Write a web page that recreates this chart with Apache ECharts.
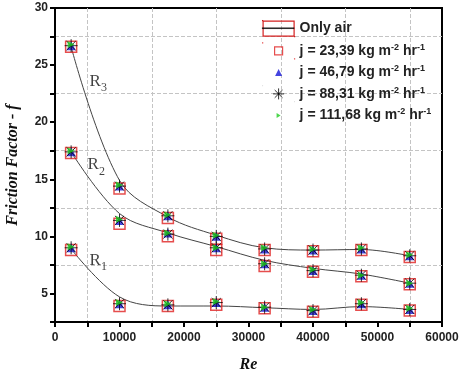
<!DOCTYPE html>
<html>
<head>
<meta charset="utf-8">
<script src="https://cdn.jsdelivr.net/npm/echarts@6/dist/echarts.min.js"></script>
<style>
html, body { margin: 0; padding: 0; background: #fff; }
#chart { width: 463px; height: 374px; }
</style>
</head>
<body>
<div id="chart"></div>
<script>
// Reynolds numbers
const re = [2500, 10000, 17500, 25000, 32500, 40000, 47500, 55000];

// "Only air" fitted curves
const airR3 = [26.6, 14.9, 11.7, 10.1, 9.0, 8.8, 8.85, 8.3];
const airR2 = [17.4, 12.0, 10.3, 9.1, 7.9, 7.2, 6.7, 5.9];
const airR1 = [8.9, 4.7, 3.9, 3.9, 3.75, 3.6, 3.85, 3.6];

// j = 23,39
const sqR3 = [26.6, 14.2, 11.6, 9.8, 8.8, 8.7, 8.8, 8.2];
const sqR2 = [17.3, 11.1, 10.0, 8.8, 7.4, 6.9, 6.5, 5.8];
const sqR1 = [8.8, 3.9, 3.9, 4.0, 3.7, 3.4, 4.0, 3.5];
// j = 46,79
const triR3 = [26.7, 14.4, 11.8, 10.0, 8.9, 8.8, 8.9, 8.3];
const triR2 = [17.4, 11.4, 10.3, 9.0, 7.6, 7.0, 6.6, 5.9];
const triR1 = [9.0, 4.1, 4.0, 4.2, 3.8, 3.5, 4.1, 3.6];
// j = 88,31
const astR3 = [26.7, 14.4, 11.8, 10.0, 8.9, 8.8, 8.9, 8.3];
const astR2 = [17.4, 11.4, 10.2, 9.0, 7.6, 7.0, 6.6, 5.9];
const astR1 = [9.0, 4.1, 4.0, 4.2, 3.8, 3.5, 4.1, 3.6];
// j = 111,68
const grR3 = [26.8, 14.5, 11.9, 10.1, 9.0, 8.9, 9.0, 8.4];
const grR2 = [17.5, 11.5, 10.3, 9.0, 7.6, 7.1, 6.6, 5.9];
const grR1 = [9.1, 4.2, 4.1, 4.3, 3.8, 3.6, 4.2, 3.7];

// curve labels [Re, f, subscript]
const curveLabels = [[6700, 23.6, '3'], [6400, 16.3, '2'], [6700, 7.9, '1']];

const legendText = {
    'Only air': 'Only air',
    j1: 'j = 23,39 kg m{sup|-2} hr{sup|-1}',
    j2: 'j = 46,79 kg m{sup|-2} hr{sup|-1}',
    j3: 'j = 88,31 kg m{sup|-2} hr{sup|-1}',
    j4: 'j = 111,68 kg m{sup|-2} hr{sup|-1}'
};

function pairs(ys) {
    return ys.map((v, i) => [re[i], v]);
}

// legend icons keep a 32x16 box so small glyphs are not stretched
function pad(body) {
    return 'path://M0,0h0.05v0.05h-0.05z M32,16h-0.05v-0.05h0.05z ' + body;
}

const asterisk = 'path://M0,5H10M5,0V10M1.5,1.5L8.5,8.5M8.5,1.5L1.5,8.5';

const legendStyle = {
    fontFamily: 'Liberation Sans, Arial',
    fontWeight: 'bold',
    fontSize: 14,
    color: '#222',
    lineHeight: 16,
    rich: {
        sup: { fontSize: 9, fontWeight: 'bold', color: '#222', verticalAlign: 'top', lineHeight: 9, padding: [0, 0, 7, 0] }
    }
};

const chart = echarts.init(document.getElementById('chart'));

const lineSeries = [airR3, airR2, airR1].map(d => ({
    name: 'Only air',
    type: 'line',
    data: pairs(d),
    smooth: 0.35,
    showSymbol: false,
    symbol: 'none',
    lineStyle: { color: '#444', width: 1 },
    itemStyle: { color: '#444' },
    z: 2
}));

function markerSeries(name, sets, opts) {
    return Object.assign({
        name: name,
        type: 'scatter',
        data: [].concat(pairs(sets[0]), pairs(sets[1]), pairs(sets[2]))
    }, opts);
}

const option = {
    backgroundColor: '#fff',
    animation: false,
    grid: {
        left: 55, right: 21, top: 8, bottom: 52,
        outerBoundsMode: 'none',
        containLabel: false,
        show: true, borderColor: '#000', borderWidth: 2
    },
    legend: [{
        id: 'main',
        left: 257, top: 15,
        orient: 'vertical',
        itemWidth: 32, itemHeight: 16, itemGap: 5,
        textStyle: legendStyle,
        formatter: n => legendText[n],
        data: [
            { name: 'Only air', icon: pad('M0.5,0.5H31.5V15.5H0.5Z'), itemStyle: { color: 'transparent', borderColor: '#d42020', borderWidth: 1.2 } },
            { name: 'j1', icon: pad('M12,4H20V12H12Z'), itemStyle: { color: 'transparent', borderColor: '#e02020', borderWidth: 1.2 } },
            { name: 'j2', icon: pad('M16,4.5L19.5,11.5H12.5Z'), itemStyle: { color: '#1515d8', borderWidth: 0 } },
            { name: 'j3', icon: pad('M10.5,8H21.5M16,2.5V13.5M12.1,4.1L19.9,11.9M19.9,4.1L12.1,11.9'), itemStyle: { color: 'transparent', borderColor: '#000', borderWidth: 1 } },
            { name: 'j4', icon: pad('M14,5.5L18,8L14,10.5Z'), itemStyle: { color: '#22cc22', borderWidth: 0 } }
        ],
        selectedMode: false
    }, {
        id: 'airLine',
        z: 10,
        left: 257, top: 15,
        orient: 'vertical',
        itemWidth: 32, itemHeight: 16,
        textStyle: Object.assign({}, legendStyle, { color: 'rgba(0,0,0,0)' }),
        data: [{ name: 'Only air', icon: pad('M0,7.5H32V8.5H0Z'), itemStyle: { color: '#000', borderColor: '#000', borderWidth: 0.3 } }],
        selectedMode: false
    }],
    xAxis: {
        type: 'value',
        min: 0, max: 60000, interval: 10000,
        name: 'Re',
        nameLocation: 'middle',
        nameGap: 35,
        nameTextStyle: { fontFamily: 'Liberation Serif, Times New Roman', fontStyle: 'italic', fontWeight: 'bold', fontSize: 16, color: '#111' },
        axisLine: { lineStyle: { color: '#000', width: 2 } },
        axisTick: { length: 5, lineStyle: { color: '#000', width: 2 } },
        minorTick: { show: true, splitNumber: 2, length: 5, lineStyle: { color: '#000', width: 2 } },
        axisLabel: {
            margin: 10,
            fontFamily: 'Liberation Sans, Arial', fontWeight: 'bold', fontSize: 12, color: '#222',
            formatter: v => String(v)
        },
        splitLine: { show: false },
        minorSplitLine: { show: true, lineStyle: { type: 'dashed', width: 1, color: '#c4c4c4' } }
    },
    yAxis: {
        type: 'value',
        min: 2.5, max: 30, interval: 2.5,
        name: 'Friction Factor - f',
        nameLocation: 'middle',
        nameGap: 34,
        nameTextStyle: { fontFamily: 'Liberation Serif, Times New Roman', fontStyle: 'italic', fontWeight: 'bold', fontSize: 16, color: '#111' },
        axisLine: { lineStyle: { color: '#000', width: 2 } },
        axisTick: { length: 5, lineStyle: { color: '#000', width: 2 } },
        axisLabel: {
            margin: 7,
            fontFamily: 'Liberation Sans, Arial', fontWeight: 'bold', fontSize: 12, color: '#222',
            formatter: v => (v % 5 === 0 ? String(v) : '')
        },
        splitLine: { show: true, lineStyle: { type: 'dashed', width: 1, color: ['#c4c4c4', 'transparent'] } }
    },
    series: lineSeries.concat([
        markerSeries('j1', [sqR3, sqR2, sqR1], {
            symbol: 'rect', symbolSize: 11,
            itemStyle: { color: 'transparent', borderColor: '#e02020', borderWidth: 1.5 }, z: 3
        }),
        markerSeries('j2', [triR3, triR2, triR1], {
            symbol: 'triangle', symbolSize: 9,
            itemStyle: { color: '#1515d8' }, z: 4
        }),
        markerSeries('j3', [astR3, astR2, astR1], {
            symbol: asterisk, symbolSize: 13,
            itemStyle: { color: 'transparent', borderColor: '#000', borderWidth: 1 }, z: 5
        }),
        markerSeries('j4', [grR3, grR2, grR1], {
            symbol: 'triangle', symbolSize: 7, symbolRotate: -90,
            itemStyle: { color: '#22cc22' }, z: 6
        }),
        {
            name: 'labels',
            type: 'scatter',
            symbolSize: 0,
            data: curveLabels.map(d => ({ value: [d[0], d[1]], sub: d[2] })),
            label: {
                show: true,
                position: 'inside',
                formatter: p => '{r|R}{s|' + p.data.sub + '}',
                rich: {
                    r: { fontFamily: 'Liberation Serif, Times New Roman', fontSize: 17, color: '#111', verticalAlign: 'bottom', lineHeight: 18 },
                    s: { fontFamily: 'Liberation Serif, Times New Roman', fontSize: 12, color: '#111', verticalAlign: 'bottom', lineHeight: 12, padding: [0, 0, -4, 0] }
                }
            },
            z: 7
        }
    ])
};
chart.setOption(option);
</script>
</body>
</html>
